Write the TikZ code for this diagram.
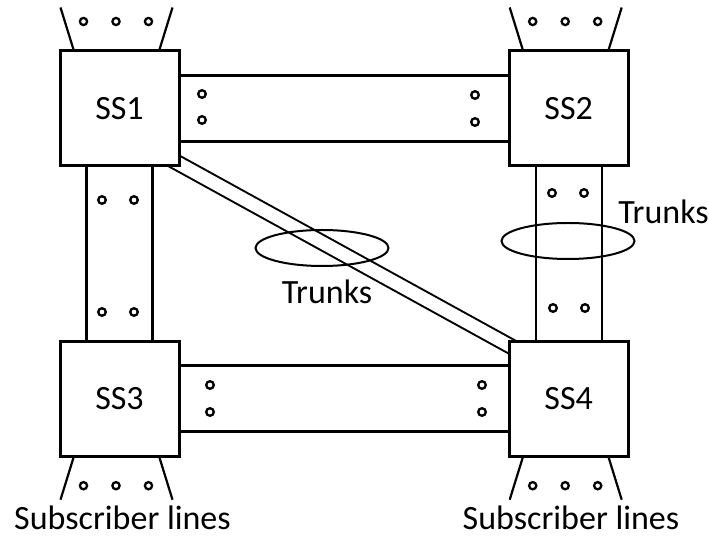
\documentclass[tikz,border=0pt]{standalone}
\usepackage{fontspec}
\setmainfont{Carlito}
\usetikzlibrary{positioning}
\usetikzlibrary{calc,backgrounds,shapes.geometric}

\begin{document}
\begin{tikzpicture}[x=1pt,y=1pt,
	station/.style={draw,fill=white,line width=3pt,minimum width=119pt,minimum height=115pt,font=\fontsize{34}{40}\selectfont},
	trunk/.style={double,double distance=63.6pt,line width=2.4pt},
	fanline/.style={line width=2.2pt},
	ring/.style={line width=2.3pt},
	bundle/.style={draw,ellipse,line width=2pt,minimum width=133pt,minimum height=36pt},
	caption/.style={inner sep=0pt,anchor=base,font=\fontsize{34}{40}\selectfont}]

	\useasboundingbox (0,0) rectangle (709,538);

	\node[station] (SS1) at (119.5,429.5) {SS1};
	\node[station, right=327.2pt of SS1] (SS2) {SS2};
	\node[station, below=172.2pt of SS1] (SS3) {SS3};
	\node[station, right=327.2pt of SS3] (SS4) {SS4};

	\begin{pgfonlayer}{background}
		\draw[trunk] (SS1) -- (SS2);
		\draw[trunk] (SS3) -- (SS4);
		\draw[trunk] (SS1) -- (SS3);
		\draw[trunk] (SS2) -- (SS4);
		\draw[double,double distance=12.5pt,line width=2pt,shorten <=-20pt,shorten >=-20pt]
			($(SS1.south east)+(0,3)$) -- ($(SS4.north west)+(0,-5)$);
	\end{pgfonlayer}

	% subscriber lines
	\foreach \n/\s/\a in {SS1/1/north, SS2/1/north, SS3/-1/south, SS4/-1/south} {
		\draw[fanline] ($(\n.\a)+(-46,0)$) -- ++(-13,\s*42);
		\draw[fanline] ($(\n.\a)+(40,0)$) -- ++(13,\s*42);
		\foreach \dx in {-36,-3.5,29}
			\draw[ring] ($(\n.\a)+(\dx,\s*28)$) circle (3.6);
	}

	% trunk dots
	\foreach \p in {(202,444),(202,418),(475,443),(475,416),
		(102,338),(134,338),(102,226),(134,226),
		(552,345),(584,345),(553,230),(585,230),
		(210,153),(210,126),(482,153),(482,126)}
		\draw[ring] \p circle (3.8);

	\node[bundle] (B1) at (322,290) {};
	\node[bundle] (B2) at (568,297) {};
	\node[caption] (T1) at (327,234.7) {Trunks};
	\node[caption] (T2) at (663.5,314.7) {Trunks};

	\node[caption] (L3) at (122.5,9) {Subscriber lines};
	\node[caption] (L4) at (571,9) {Subscriber lines};
\end{tikzpicture}
\end{document}
